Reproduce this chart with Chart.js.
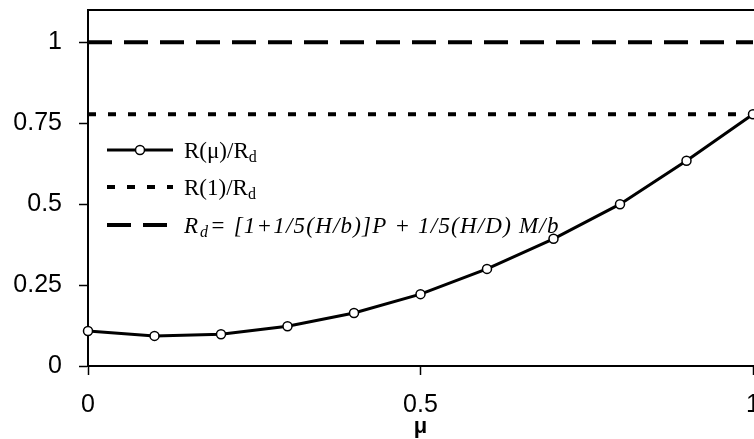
<!DOCTYPE html>
<html>
<head>
<meta charset="utf-8">
<script src="https://cdn.jsdelivr.net/npm/chart.js@4"></script>
<style>
  html, body { margin: 0; padding: 0; overflow: hidden; background: #fff; }
  #wrap { width: 800px; height: 439px; }
</style>
</head>
<body>
<div id="wrap"><canvas id="chart" width="800" height="439"></canvas></div>
<script>
// values
const muValues = [0, 0.1, 0.2, 0.3, 0.4, 0.5, 0.6, 0.7, 0.8, 0.9, 1];
const ratioValues = [0.108, 0.093, 0.098, 0.123, 0.164, 0.222, 0.300, 0.393, 0.500, 0.634, 0.778];
const r1Level = 0.778;
const rdLevel = 1;
const xTicks = [0, 0.5, 1];
const yTicks = [0, 0.25, 0.5, 0.75, 1];

const curve = muValues.map((m, i) => ({ x: m, y: ratioValues[i] }));
const r1Line = [{ x: muValues[0], y: r1Level }, { x: muValues[muValues.length - 1], y: r1Level }];
const rdLine = [{ x: muValues[0], y: rdLevel }, { x: muValues[muValues.length - 1], y: rdLevel }];

const serif = "'Liberation Serif', 'Times New Roman', serif";

// legend drawn by hand because of the subscripts and italics
const legendPlugin = {
    id: "handLegend",
    afterDraw(chart) {
        const ctx = chart.ctx;
        const x0 = 107, x1 = 173, tx = 184;
        ctx.save();
        ctx.strokeStyle = "#000";
        ctx.fillStyle = "#000";

        // top border of the plot
        ctx.lineWidth = 2;
        ctx.beginPath();
        ctx.moveTo(chart.chartArea.left, chart.chartArea.top);
        ctx.lineTo(chart.width, chart.chartArea.top);
        ctx.stroke();

        // row 1
        let y = 150;
        ctx.lineWidth = 3;
        ctx.setLineDash([]);
        ctx.beginPath();
        ctx.moveTo(x0, y); ctx.lineTo(x1, y); ctx.stroke();
        ctx.lineWidth = 1.5;
        ctx.beginPath();
        ctx.arc((x0 + x1) / 2, y, 4.5, 0, Math.PI * 2);
        ctx.fillStyle = "#fff"; ctx.fill(); ctx.stroke();
        ctx.fillStyle = "#000";
        drawSub(ctx, tx, y + 8, "R(\u03bc)/R", "d", "", false);

        // row 2
        y = 187;
        ctx.lineWidth = 4;
        ctx.setLineDash([8, 12]);
        ctx.beginPath();
        ctx.moveTo(x0, y); ctx.lineTo(x1, y); ctx.stroke();
        drawSub(ctx, tx, y + 8, "R(1)/R", "d", "", false);

        // row 3
        y = 225;
        ctx.setLineDash([24, 12]);
        ctx.beginPath();
        ctx.moveTo(x0, y); ctx.lineTo(x1, y); ctx.stroke();
        ctx.setLineDash([]);
        drawSub(ctx, tx, y + 8, "R", "d", "= [1+1/5(H/b)]P + 1/5(H/D) M/b", true);
        ctx.restore();
    }
};

function drawSub(ctx, x, y, main, sub, tail, italic) {
    const st = italic ? "italic " : "";
    ctx.textBaseline = "alphabetic";
    ctx.textAlign = "left";
    ctx.font = st + "23px " + serif;
    ctx.fillText(main, x, y);
    x += ctx.measureText(main).width + (italic ? 2 : 0);
    ctx.font = st + "16px " + serif;
    ctx.fillText(sub, x, y + 4);
    x += ctx.measureText(sub).width + (italic ? 2 : 0);
    if (tail) {
        ctx.font = st + "23px " + serif;
        ctx.letterSpacing = "1.2px";
        ctx.fillText(tail, x, y);
        ctx.letterSpacing = "0px";
    }
}

const tickFont = { family: "'Liberation Sans', Arial, sans-serif", size: 25 };

new Chart(document.getElementById("chart"), {
    type: "line",
    data: {
        datasets: [
            {
                label: "R(\u03bc)/Rd",
                data: curve,
                borderColor: "#000",
                borderWidth: 3,
                pointRadius: 4.5,
                pointBackgroundColor: "#fff",
                pointBorderColor: "#000",
                pointBorderWidth: 1.5,
                tension: 0,
                clip: false,
                order: 0
            },
            {
                label: "R(1)/Rd",
                data: r1Line,
                borderColor: "#000",
                borderWidth: 4,
                borderDash: [8, 12],
                pointRadius: 0,
                clip: false,
                order: 1
            },
            {
                label: "Rd",
                data: rdLine,
                borderColor: "#000",
                borderWidth: 4,
                borderDash: [24, 12],
                pointRadius: 0,
                clip: false,
                order: 2
            }
        ]
    },
    options: {
        responsive: false,
        animation: false,
        layout: { padding: { left: 0, right: 47, top: 10, bottom: 0 } },
        plugins: { legend: { display: false }, tooltip: { enabled: false } },
        scales: {
            x: {
                type: "linear",
                min: 0,
                max: 1,
                afterBuildTicks: (axis) => { axis.ticks = xTicks.map(v => ({ value: v })); },
                afterFit: (axis) => {
                    axis.height = 73;
                    axis.paddingLeft = 0;
                    axis.paddingRight = 0;
                },
                ticks: {
                    color: "#000",
                    font: tickFont,
                    padding: 15,
                    maxRotation: 0,
                    callback: (v) => String(v)
                },
                grid: { drawOnChartArea: false, tickLength: 9, tickColor: "#000", tickWidth: 1.5 },
                border: { color: "#000", width: 2 },
                title: {
                    display: true,
                    text: "\u03bc",
                    color: "#000",
                    font: { family: "'Liberation Sans', Arial, sans-serif", size: 22, weight: "bold", lineHeight: 1 },
                    padding: { top: 0, bottom: 1 }
                }
            },
            y: {
                type: "linear",
                min: 0,
                max: 1.1,
                afterBuildTicks: (axis) => { axis.ticks = yTicks.map(v => ({ value: v })); },
                afterFit: (axis) => {
                    axis.width = 88;
                    axis.paddingTop = 0;
                    axis.paddingBottom = 0;
                },
                ticks: {
                    color: "#000",
                    font: tickFont,
                    padding: 17,
                    callback: (v) => String(v)
                },
                grid: { drawOnChartArea: false, tickLength: 9, tickColor: "#000", tickWidth: 1.5 },
                border: { color: "#000", width: 2 }
            }
        }
    },
    plugins: [legendPlugin]
});
</script>
</body>
</html>
